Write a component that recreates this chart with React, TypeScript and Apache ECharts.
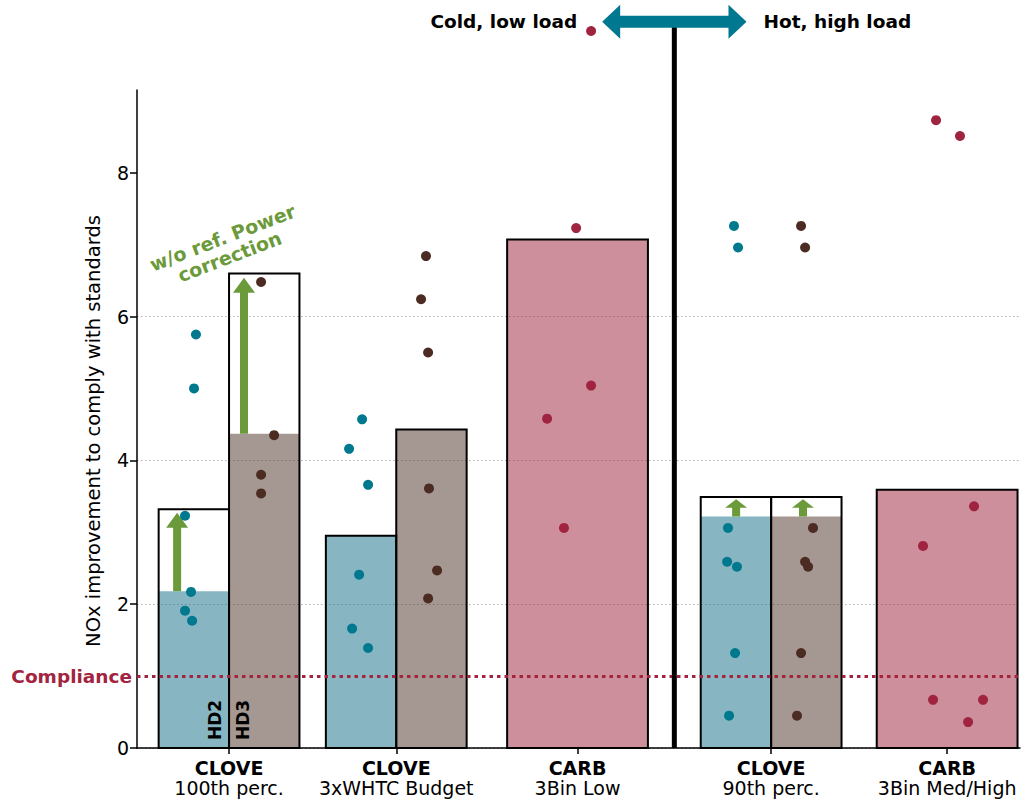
import React, { useEffect, useRef } from "react";
import * as echarts from "echarts";

// ---- categories / axis ----
const groupNames = ["CLOVE", "CLOVE", "CARB", "CLOVE", "CARB"];
const groupSubNames = ["100th perc.", "3xWHTC Budget", "3Bin Low", "90th perc.", "3Bin Med/High"];
const groupCenters = [0, 0.95, 1.98, 3.08, 4.08];
const yTicks = [0, 2, 4, 6, 8];

// ---- bar values ----
const cloveGroupIdx = [0, 1, 3];
const hd2Corrected = [2.18, 2.95, 3.22];
const hd2Uncorrected = [3.32, 2.95, 3.49];
const hd3Corrected = [4.37, 4.43, 3.22];
const hd3Uncorrected = [6.6, 4.43, 3.49];
const carbGroupIdx = [2, 4];
const carbValues = [7.07, 3.59];

// ---- individual points [x, value] ----
const hd2Points = [
  [-0.25, 3.23], [-0.199, 5.0], [-0.188, 5.75], [-0.216, 2.17], [-0.25, 1.91], [-0.21, 1.77],
  [0.756, 4.57], [0.682, 4.16], [0.79, 3.66], [0.739, 2.41], [0.699, 1.66], [0.79, 1.39],
  [2.869, 7.26], [2.892, 6.96], [2.835, 3.06], [2.83, 2.59], [2.886, 2.52], [2.875, 1.32], [2.841, 0.45],
];
const hd3Points = [
  [0.182, 6.48], [0.256, 4.35], [0.182, 3.8], [0.182, 3.54],
  [1.119, 6.84], [1.091, 6.24], [1.131, 5.5], [1.136, 3.61], [1.182, 2.47], [1.131, 2.08],
  [3.25, 7.26], [3.273, 6.96], [3.318, 3.06], [3.273, 2.59], [3.29, 2.52], [3.25, 1.32], [3.227, 0.45],
];
const carbPoints = [
  [1.972, 7.23], [2.057, 5.04], [1.807, 4.58], [1.903, 3.06], [2.057, 9.97],
  [4.017, 8.73], [4.153, 8.51], [4.233, 3.36], [3.943, 2.81], [4.0, 0.67], [4.284, 0.67], [4.199, 0.36],
];

// ---- correction arrows ----
const arrowX = [-0.295, 0.085, 2.881, 3.261];
const arrowFrom = [2.18, 4.37, 3.22, 3.22];
const arrowTo = [3.27, 6.54, 3.46, 3.46];

const complianceLevel = 1;
const dividerX = 2.53;
const topArrowY = 10.1;
const topArrowHalf = 0.41;

// ---- style ----
const FONT = "DejaVu Sans";
const FS = 19;
const BAR_W = 0.4;
const C_HD2 = "#00798f";
const C_HD3 = "#4b2b22";
const C_CARB = "#a0243f";
const F_HD2 = "rgba(15,109,133,0.5)";
const F_HD3 = "rgba(75,49,37,0.5)";
const F_CARB = "rgba(155,31,55,0.5)";
const GREEN = "#6b9a3a";

function barRender(fill: string) {
  return (params: any, api: any) => {
    const x = api.value(0);
    const v = api.value(1);
    const u = api.value(2);
    const w = api.value(3);
    const p0 = api.coord([x - w / 2, 0]);
    const p1 = api.coord([x + w / 2, v]);
    const p2 = api.coord([x + w / 2, Math.max(u, v)]);
    return {
      type: "group",
      children: [
        {
          type: "rect",
          shape: { x: p0[0], y: p1[1], width: p1[0] - p0[0], height: p0[1] - p1[1] },
          style: { fill },
        },
        {
          type: "rect",
          shape: { x: p0[0], y: p2[1], width: p2[0] - p0[0], height: p0[1] - p2[1] },
          style: { fill: "none", stroke: "#000", lineWidth: 2 },
        },
      ],
    };
  };
}

export default function App() {
  const ref = useRef<HTMLDivElement>(null);
  useEffect(() => {
    if (!ref.current) return;
    const chart = echarts.init(ref.current, null, { renderer: "svg" });

    const hd2Data = cloveGroupIdx.map((g, i) => [groupCenters[g] - BAR_W / 2, hd2Corrected[i], hd2Uncorrected[i], BAR_W]);
    const hd3Data = cloveGroupIdx.map((g, i) => [groupCenters[g] + BAR_W / 2, hd3Corrected[i], hd3Uncorrected[i], BAR_W]);
    const carbData = carbGroupIdx.map((g, i) => [groupCenters[g], carbValues[i], carbValues[i], BAR_W * 2]);
    const arrowData = arrowX.map((x, i) => [x, arrowFrom[i], arrowTo[i]]);

    const labelFormatter = (value: number) => {
      const i = groupCenters.findIndex((c) => Math.abs(c - value) < 1e-6);
      if (i < 0) return "";
      return `{b|${groupNames[i]}}\n{n|${groupSubNames[i]}}`;
    };

    const option: any = {
      animation: false,
      grid: { left: 137, right: 6, top: 90, bottom: 53 },
      xAxis: {
        type: "value",
        min: -0.523,
        max: 4.494,
        axisLine: { show: true, onZero: false, lineStyle: { color: "#000", width: 1.5 } },
        axisTick: { show: true, length: 6, customValues: groupCenters, lineStyle: { color: "#000", width: 1.5 } },
        axisLabel: {
          customValues: groupCenters,
          formatter: labelFormatter,
          margin: 10,
          rich: {
            b: { fontWeight: "bold", fontSize: FS, fontFamily: FONT, color: "#000", lineHeight: 20 },
            n: { fontSize: FS, fontFamily: FONT, color: "#000", lineHeight: 20 },
          },
        },
        splitLine: { show: false },
      },
      yAxis: {
        type: "value",
        min: 0,
        max: 9.15,
        interval: 2,
        name: "NOx improvement to comply with standards",
        nameLocation: "middle",
        nameGap: 34,
        nameTextStyle: { fontSize: 19.5, color: "#000", fontFamily: FONT, padding: [0, 24, 0, 0] },
        axisLine: { show: true, onZero: false, lineStyle: { color: "#000", width: 1.5 } },
        axisTick: { show: true, length: 7, customValues: yTicks, lineStyle: { color: "#000", width: 1.5 } },
        axisLabel: { customValues: yTicks, fontSize: FS, color: "#000", fontFamily: FONT, margin: 8 },
        splitLine: { show: true, showMaxLine: false, lineStyle: { color: "#b0b0b0", type: [1.5, 2.5], width: 1.2 } },
      },
      graphic: [
        {
          type: "text",
          x: 226,
          y: 247,
          rotation: (21 * Math.PI) / 180,
          z: 20,
          style: {
            text: "w/o ref. Power\ncorrection",
            fill: GREEN,
            fontSize: 19,
            fontWeight: "bold",
            fontFamily: FONT,
            align: "center",
            verticalAlign: "middle",
            lineHeight: 20,
          },
        },
      ],
      series: [
        { type: "custom", name: "HD2 bars", z: 2, clip: false, renderItem: barRender(F_HD2), data: hd2Data, encode: { x: 0, y: 1 } },
        { type: "custom", name: "HD3 bars", z: 2, clip: false, renderItem: barRender(F_HD3), data: hd3Data, encode: { x: 0, y: 1 } },
        { type: "custom", name: "CARB bars", z: 2, clip: false, renderItem: barRender(F_CARB), data: carbData, encode: { x: 0, y: 1 } },
        {
          type: "custom",
          name: "correction arrows",
          z: 3,
          clip: false,
          encode: { x: 0, y: 1 },
          data: arrowData,
          renderItem: (params: any, api: any) => {
            const b = api.coord([api.value(0), api.value(1)]);
            const t = api.coord([api.value(0), api.value(2)]);
            const total = b[1] - t[1];
            const hl = Math.min(15, total * 0.5);
            const sw = 4;
            const hw = 11;
            const x = b[0];
            return {
              type: "polygon",
              shape: {
                points: [
                  [x - sw, b[1]],
                  [x - sw, t[1] + hl],
                  [x - hw, t[1] + hl],
                  [x, t[1]],
                  [x + hw, t[1] + hl],
                  [x + sw, t[1] + hl],
                  [x + sw, b[1]],
                ],
              },
              style: { fill: GREEN },
            };
          },
        },
        {
          type: "line",
          name: "compliance",
          z: 4,
          data: [],
          markLine: {
            silent: true,
            symbol: "none",
            data: [{ yAxis: complianceLevel }],
            lineStyle: { color: "#a3243f", type: [3.5, 4], width: 3 },
            label: {
              show: true,
              position: "start",
              formatter: "Compliance",
              distance: 5,
              color: "#a3243f",
              fontSize: 18.5,
              fontWeight: "bold",
              fontFamily: FONT,
            },
          },
        },
        { type: "scatter", name: "HD2", z: 5, symbolSize: 10, data: hd2Points, itemStyle: { color: C_HD2, opacity: 1 } },
        { type: "scatter", name: "HD3", z: 5, symbolSize: 10, data: hd3Points, itemStyle: { color: C_HD3, opacity: 1 } },
        { type: "scatter", name: "CARB", z: 5, clip: false, symbolSize: 10, data: carbPoints, itemStyle: { color: C_CARB, opacity: 1 } },
        {
          type: "custom",
          name: "divider",
          z: 6,
          clip: false,
          encode: { x: 0, y: 1 },
          data: [[dividerX, topArrowY, topArrowHalf]],
          renderItem: (params: any, api: any) => {
            const cx = api.value(0);
            const ay = api.value(1);
            const half = api.value(2);
            const bottom = api.coord([cx, 0]);
            const top = api.coord([cx, ay]);
            const L = api.coord([cx - half, ay])[0];
            const R = api.coord([cx + half, ay])[0];
            const y = top[1];
            const hl = 18;
            const hh = 17;
            const sw = 6;
            return {
              type: "group",
              children: [
                {
                  type: "line",
                  shape: { x1: bottom[0], y1: bottom[1], x2: top[0], y2: top[1] },
                  style: { stroke: "#000", lineWidth: 5 },
                },
                {
                  type: "polygon",
                  shape: {
                    points: [
                      [L, y], [L + hl, y - hh], [L + hl, y - sw], [R - hl, y - sw], [R - hl, y - hh],
                      [R, y], [R - hl, y + hh], [R - hl, y + sw], [L + hl, y + sw], [L + hl, y + hh],
                    ],
                  },
                  style: { fill: "#00788f" },
                },
                {
                  type: "text",
                  x: L - 25,
                  y: y,
                  style: {
                    text: "Cold, low load", fill: "#000", fontSize: 18.5, fontWeight: "bold", fontFamily: FONT,
                    align: "right", verticalAlign: "middle",
                  },
                },
                {
                  type: "text",
                  x: R + 17,
                  y: y,
                  style: {
                    text: "Hot, high load", fill: "#000", fontSize: 18.5, fontWeight: "bold", fontFamily: FONT,
                    align: "left", verticalAlign: "middle",
                  },
                },
              ],
            };
          },
        },
        {
          type: "custom",
          name: "HD labels",
          z: 7,
          clip: false,
          encode: { x: 0, y: 1 },
          data: [[groupCenters[0], 0]],
          renderItem: (params: any, api: any) => {
            const p = api.coord([api.value(0), api.value(1)]);
            const mk = (text: string, dx: number) => ({
              type: "text",
              x: p[0] + dx,
              y: p[1] - 8,
              rotation: Math.PI / 2,
              style: {
                text, fill: "#000", fontSize: 17, fontWeight: "bold", fontFamily: FONT,
                align: "left", verticalAlign: "middle",
              },
            });
            return { type: "group", children: [mk("HD2", -14), mk("HD3", 14)] };
          },
        },
      ],
    };
    chart.setOption(option);
    return () => chart.dispose();
  }, []);
  return <div ref={ref} style={{ position: "absolute", left: 0, top: 0, width: 1026, height: 801 }} />;
}
